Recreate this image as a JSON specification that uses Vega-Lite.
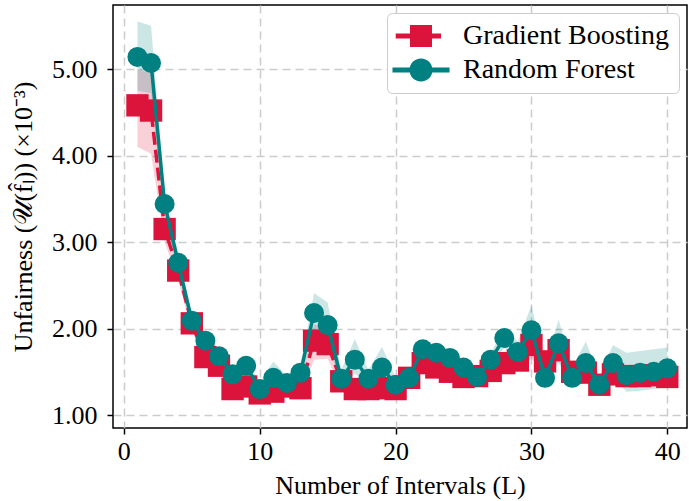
{
  "$schema": "https://vega.github.io/schema/vega-lite/v6.json",
  "width": 574,
  "height": 423,
  "autosize": "none",
  "padding": {"left": 113, "top": 5, "right": 2, "bottom": 73},
  "background": "white",
  "config": {
    "font": "Liberation Serif",
    "view": {"stroke": "black", "strokeWidth": 1.5},
    "axis": {
      "labelFont": "Liberation Serif",
      "titleFont": "Liberation Serif",
      "labelFontSize": 26,
      "titleFontSize": 26,
      "titleFontWeight": "normal",
      "labelColor": "black",
      "titleColor": "black",
      "domain": false,
      "tickColor": "black",
      "tickWidth": 1.5,
      "tickSize": 6,
      "grid": true,
      "gridColor": "#cccccc",
      "gridDash": [8, 5],
      "gridWidth": 1.5
    },
    "legend": {
      "labelFont": "Liberation Serif",
      "labelFontSize": 28,
      "labelColor": "black",
      "labelLimit": 0
    }
  },
  "datasets": {
    "d": [
      {"L": 1, "model": "Gradient Boosting", "m": 4.58, "lo": 4.10, "hi": 5.00},
      {"L": 2, "model": "Gradient Boosting", "m": 4.52, "lo": 4.02, "hi": 4.95},
      {"L": 3, "model": "Gradient Boosting", "m": 3.15, "lo": 3.00, "hi": 3.30},
      {"L": 4, "model": "Gradient Boosting", "m": 2.67, "lo": 2.55, "hi": 2.78},
      {"L": 5, "model": "Gradient Boosting", "m": 2.06, "lo": 1.98, "hi": 2.14},
      {"L": 6, "model": "Gradient Boosting", "m": 1.67, "lo": 1.60, "hi": 1.75},
      {"L": 7, "model": "Gradient Boosting", "m": 1.57, "lo": 1.48, "hi": 1.65},
      {"L": 8, "model": "Gradient Boosting", "m": 1.30, "lo": 1.22, "hi": 1.38},
      {"L": 9, "model": "Gradient Boosting", "m": 1.33, "lo": 1.25, "hi": 1.42},
      {"L": 10, "model": "Gradient Boosting", "m": 1.25, "lo": 1.18, "hi": 1.32},
      {"L": 11, "model": "Gradient Boosting", "m": 1.27, "lo": 1.20, "hi": 1.35},
      {"L": 12, "model": "Gradient Boosting", "m": 1.33, "lo": 1.26, "hi": 1.40},
      {"L": 13, "model": "Gradient Boosting", "m": 1.31, "lo": 1.24, "hi": 1.38},
      {"L": 14, "model": "Gradient Boosting", "m": 1.86, "lo": 1.64, "hi": 2.05},
      {"L": 15, "model": "Gradient Boosting", "m": 1.82, "lo": 1.65, "hi": 1.98},
      {"L": 16, "model": "Gradient Boosting", "m": 1.39, "lo": 1.30, "hi": 1.48},
      {"L": 17, "model": "Gradient Boosting", "m": 1.30, "lo": 1.22, "hi": 1.40},
      {"L": 18, "model": "Gradient Boosting", "m": 1.30, "lo": 1.22, "hi": 1.38},
      {"L": 19, "model": "Gradient Boosting", "m": 1.31, "lo": 1.24, "hi": 1.40},
      {"L": 20, "model": "Gradient Boosting", "m": 1.30, "lo": 1.22, "hi": 1.38},
      {"L": 21, "model": "Gradient Boosting", "m": 1.43, "lo": 1.36, "hi": 1.50},
      {"L": 22, "model": "Gradient Boosting", "m": 1.60, "lo": 1.52, "hi": 1.68},
      {"L": 23, "model": "Gradient Boosting", "m": 1.55, "lo": 1.48, "hi": 1.62},
      {"L": 24, "model": "Gradient Boosting", "m": 1.50, "lo": 1.42, "hi": 1.57},
      {"L": 25, "model": "Gradient Boosting", "m": 1.44, "lo": 1.36, "hi": 1.52},
      {"L": 26, "model": "Gradient Boosting", "m": 1.45, "lo": 1.38, "hi": 1.52},
      {"L": 27, "model": "Gradient Boosting", "m": 1.51, "lo": 1.42, "hi": 1.58},
      {"L": 28, "model": "Gradient Boosting", "m": 1.60, "lo": 1.52, "hi": 1.68},
      {"L": 29, "model": "Gradient Boosting", "m": 1.63, "lo": 1.55, "hi": 1.72},
      {"L": 30, "model": "Gradient Boosting", "m": 1.81, "lo": 1.65, "hi": 1.95},
      {"L": 31, "model": "Gradient Boosting", "m": 1.62, "lo": 1.50, "hi": 1.72},
      {"L": 32, "model": "Gradient Boosting", "m": 1.75, "lo": 1.62, "hi": 1.88},
      {"L": 33, "model": "Gradient Boosting", "m": 1.50, "lo": 1.40, "hi": 1.58},
      {"L": 34, "model": "Gradient Boosting", "m": 1.49, "lo": 1.40, "hi": 1.58},
      {"L": 35, "model": "Gradient Boosting", "m": 1.35, "lo": 1.28, "hi": 1.44},
      {"L": 36, "model": "Gradient Boosting", "m": 1.47, "lo": 1.38, "hi": 1.56},
      {"L": 37, "model": "Gradient Boosting", "m": 1.45, "lo": 1.35, "hi": 1.55},
      {"L": 38, "model": "Gradient Boosting", "m": 1.45, "lo": 1.35, "hi": 1.55},
      {"L": 39, "model": "Gradient Boosting", "m": 1.46, "lo": 1.36, "hi": 1.56},
      {"L": 40, "model": "Gradient Boosting", "m": 1.44, "lo": 1.34, "hi": 1.55},
      {"L": 1, "model": "Random Forest", "m": 5.14, "lo": 4.75, "hi": 5.55},
      {"L": 2, "model": "Random Forest", "m": 5.07, "lo": 4.72, "hi": 5.50},
      {"L": 3, "model": "Random Forest", "m": 3.44, "lo": 3.30, "hi": 3.58},
      {"L": 4, "model": "Random Forest", "m": 2.76, "lo": 2.65, "hi": 2.87},
      {"L": 5, "model": "Random Forest", "m": 2.09, "lo": 2.00, "hi": 2.18},
      {"L": 6, "model": "Random Forest", "m": 1.86, "lo": 1.78, "hi": 1.94},
      {"L": 7, "model": "Random Forest", "m": 1.68, "lo": 1.60, "hi": 1.76},
      {"L": 8, "model": "Random Forest", "m": 1.47, "lo": 1.40, "hi": 1.55},
      {"L": 9, "model": "Random Forest", "m": 1.57, "lo": 1.48, "hi": 1.65},
      {"L": 10, "model": "Random Forest", "m": 1.30, "lo": 1.22, "hi": 1.38},
      {"L": 11, "model": "Random Forest", "m": 1.43, "lo": 1.35, "hi": 1.62},
      {"L": 12, "model": "Random Forest", "m": 1.37, "lo": 1.30, "hi": 1.45},
      {"L": 13, "model": "Random Forest", "m": 1.49, "lo": 1.40, "hi": 1.58},
      {"L": 14, "model": "Random Forest", "m": 2.18, "lo": 1.95, "hi": 2.41},
      {"L": 15, "model": "Random Forest", "m": 2.04, "lo": 1.85, "hi": 2.30},
      {"L": 16, "model": "Random Forest", "m": 1.42, "lo": 1.32, "hi": 1.52},
      {"L": 17, "model": "Random Forest", "m": 1.64, "lo": 1.48, "hi": 1.88},
      {"L": 18, "model": "Random Forest", "m": 1.42, "lo": 1.33, "hi": 1.52},
      {"L": 19, "model": "Random Forest", "m": 1.55, "lo": 1.40, "hi": 1.79},
      {"L": 20, "model": "Random Forest", "m": 1.35, "lo": 1.27, "hi": 1.43},
      {"L": 21, "model": "Random Forest", "m": 1.43, "lo": 1.36, "hi": 1.50},
      {"L": 22, "model": "Random Forest", "m": 1.76, "lo": 1.68, "hi": 1.86},
      {"L": 23, "model": "Random Forest", "m": 1.72, "lo": 1.64, "hi": 1.80},
      {"L": 24, "model": "Random Forest", "m": 1.66, "lo": 1.58, "hi": 1.74},
      {"L": 25, "model": "Random Forest", "m": 1.55, "lo": 1.48, "hi": 1.62},
      {"L": 26, "model": "Random Forest", "m": 1.44, "lo": 1.37, "hi": 1.52},
      {"L": 27, "model": "Random Forest", "m": 1.64, "lo": 1.55, "hi": 1.72},
      {"L": 28, "model": "Random Forest", "m": 1.89, "lo": 1.78, "hi": 2.00},
      {"L": 29, "model": "Random Forest", "m": 1.73, "lo": 1.62, "hi": 1.85},
      {"L": 30, "model": "Random Forest", "m": 1.98, "lo": 1.80, "hi": 2.27},
      {"L": 31, "model": "Random Forest", "m": 1.43, "lo": 1.30, "hi": 1.58},
      {"L": 32, "model": "Random Forest", "m": 1.83, "lo": 1.60, "hi": 2.10},
      {"L": 33, "model": "Random Forest", "m": 1.43, "lo": 1.33, "hi": 1.55},
      {"L": 34, "model": "Random Forest", "m": 1.60, "lo": 1.45, "hi": 1.85},
      {"L": 35, "model": "Random Forest", "m": 1.35, "lo": 1.27, "hi": 1.45},
      {"L": 36, "model": "Random Forest", "m": 1.60, "lo": 1.45, "hi": 1.81},
      {"L": 37, "model": "Random Forest", "m": 1.46, "lo": 1.27, "hi": 1.72},
      {"L": 38, "model": "Random Forest", "m": 1.49, "lo": 1.28, "hi": 1.74},
      {"L": 39, "model": "Random Forest", "m": 1.50, "lo": 1.30, "hi": 1.76},
      {"L": 40, "model": "Random Forest", "m": 1.54, "lo": 1.32, "hi": 1.78}
    ]
  },
  "data": {"name": "d"},
  "encoding": {
    "x": {
      "field": "L", "type": "quantitative",
      "scale": {"domain": [-0.8, 41.45], "nice": false, "zero": false},
      "axis": {"values": [0, 10, 20, 30, 40], "title": "Number of Intervals (L)", "labelPadding": 4, "titlePadding": 8}
    },
    "y": {
      "field": "m", "type": "quantitative",
      "scale": {"domain": [0.85, 5.74], "nice": false, "zero": false},
      "axis": {"values": [1, 2, 3, 4, 5], "format": ".2f", "title": "Unfairness (𝒰(f̂ₗ)) (×10⁻³)", "labelPadding": 10, "titlePadding": 15}
    }
  },
  "layer": [
    {
      "transform": [{"filter": "datum.model === 'Gradient Boosting'"}],
      "mark": {"type": "area", "opacity": 0.2, "color": "#DC143C"},
      "encoding": {
        "y": {"field": "lo", "type": "quantitative", "scale": {"domain": [0.85, 5.74], "nice": false, "zero": false}, "axis": {"values": [1, 2, 3, 4, 5], "format": ".2f", "title": "Unfairness (𝒰(f̂ₗ)) (×10⁻³)", "labelPadding": 10, "titlePadding": 15}},
        "y2": {"field": "hi"}
      }
    },
    {
      "transform": [{"filter": "datum.model === 'Random Forest'"}],
      "mark": {"type": "area", "opacity": 0.2, "color": "#008080"},
      "encoding": {
        "y": {"field": "lo", "type": "quantitative", "scale": {"domain": [0.85, 5.74], "nice": false, "zero": false}, "axis": {"values": [1, 2, 3, 4, 5], "format": ".2f", "title": "Unfairness (𝒰(f̂ₗ)) (×10⁻³)", "labelPadding": 10, "titlePadding": 15}},
        "y2": {"field": "hi"}
      }
    },
    {
      "transform": [{"filter": "datum.model === 'Gradient Boosting'"}],
      "mark": {"type": "line", "strokeWidth": 3.5, "strokeDash": [13, 5], "color": "#DC143C"}
    },
    {
      "transform": [{"filter": "datum.model === 'Gradient Boosting'"}],
      "mark": {"type": "point", "shape": "square", "filled": true, "opacity": 1, "size": 500, "color": "#DC143C"}
    },
    {
      "transform": [{"filter": "datum.model === 'Random Forest'"}],
      "mark": {"type": "line", "strokeWidth": 3.5, "color": "#008080"}
    },
    {
      "transform": [{"filter": "datum.model === 'Random Forest'"}],
      "mark": {"type": "point", "shape": "circle", "filled": true, "opacity": 1, "size": 400, "color": "#008080"}
    },
    {
      "mark": {"type": "point", "filled": true, "opacity": 0},
      "encoding": {
        "color": {
          "field": "model", "type": "nominal",
          "scale": {"domain": ["Gradient Boosting", "Random Forest"], "range": ["#DC143C", "#008080"]},
          "legend": {
            "title": null,
            "orient": "top-right",
            "offset": 8,
            "padding": 9,
            "strokeColor": "#cccccc",
            "fillColor": "white",
            "cornerRadius": 5,
            "symbolSize": 529,
            "symbolOpacity": 1,
            "symbolStrokeWidth": 0,
            "symbolOffset": 11,
            "labelOffset": 28,
            "rowPadding": 6
          }
        },
        "shape": {
          "field": "model", "type": "nominal",
          "scale": {
            "domain": ["Gradient Boosting", "Random Forest"],
            "range": [
              "M-2.2,-0.217H1.74V0.217H-2.2Z M-0.957,-0.957H0.957V0.957H-0.957Z",
              "M-2.48,-0.217H2.48V0.217H-2.48Z M-1,0A1,1 0 1,1 1,0A1,1 0 1,1 -1,0Z"
            ]
          },
          "legend": {
            "title": null,
            "orient": "top-right",
            "offset": 8,
            "padding": 9,
            "strokeColor": "#cccccc",
            "fillColor": "white",
            "cornerRadius": 5,
            "symbolSize": 529,
            "symbolOpacity": 1,
            "symbolStrokeWidth": 0,
            "symbolOffset": 11,
            "labelOffset": 28,
            "rowPadding": 6
          }
        }
      }
    }
  ]
}
